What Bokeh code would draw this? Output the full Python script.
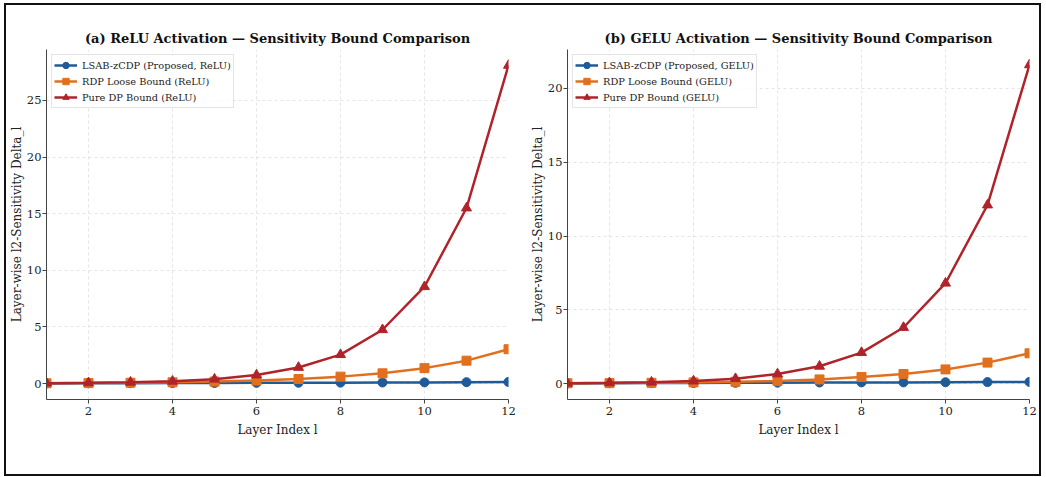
from bokeh.plotting import figure
from bokeh.layouts import row
from bokeh.models import Range1d, SingleIntervalTicker, FixedTicker
from bokeh.embed import file_html
from bokeh.resources import INLINE

layers = [1, 2, 3, 4, 5, 6, 7, 8, 9, 10, 11, 12]

relu_lsab = [0.01, 0.02, 0.03, 0.04, 0.05, 0.06, 0.07, 0.08, 0.09, 0.10, 0.12, 0.14]
relu_rdp = [0.02, 0.04, 0.07, 0.11, 0.17, 0.26, 0.40, 0.61, 0.90, 1.36, 2.02, 3.03]
relu_pure = [0.03, 0.06, 0.11, 0.20, 0.38, 0.75, 1.42, 2.55, 4.75, 8.55, 15.5, 28.1]

gelu_lsab = [0.01, 0.02, 0.03, 0.04, 0.05, 0.06, 0.07, 0.08, 0.08, 0.09, 0.10, 0.11]
gelu_rdp = [0.02, 0.03, 0.05, 0.08, 0.12, 0.18, 0.28, 0.45, 0.65, 0.96, 1.42, 2.05]
gelu_pure = [0.02, 0.05, 0.09, 0.17, 0.33, 0.65, 1.17, 2.10, 3.80, 6.80, 12.1, 21.6]

x_ticks = [2, 4, 6, 8, 10, 12]

BLUE = "#1f5a99"
ORANGE = "#e0701e"
RED = "#b0232a"
SERIF = "DejaVu Serif"


def make_panel(title, act, lsab, rdp, pure, y_range, width, bl, br):
    p = figure(width=width, height=469, output_backend="svg", toolbar_location=None,
               x_range=Range1d(1, 12), y_range=Range1d(*y_range),
               min_border_left=bl, min_border_right=br, min_border_top=44, min_border_bottom=75,
               title=title)
    p.title.text_font = SERIF
    p.title.text_font_size = "13px"
    p.title.text_font_style = "bold"
    p.title.align = "center"
    p.title.standoff = 8
    p.title.text_color = "#111111"
    p.outline_line_color = None
    p.background_fill_color = "white"
    p.border_fill_color = "white"

    series = [
        (lsab, BLUE, "circle", f"LSAB-zCDP (Proposed, {act})", 9),
        (rdp, ORANGE, "square", f"RDP Loose Bound ({act})", 9),
        (pure, RED, "triangle", f"Pure DP Bound ({act})", 10),
    ]
    for ys, col, mk, lab, sz in series:
        p.line(layers, ys, line_color=col, line_width=2.5, legend_label=lab)
        p.scatter(layers, ys, marker=mk, size=sz, fill_color=col, line_color=col, legend_label=lab)

    p.xaxis.ticker = FixedTicker(ticks=x_ticks)
    p.yaxis.ticker = SingleIntervalTicker(interval=5)
    p.xaxis.axis_label = "Layer Index l"
    p.yaxis.axis_label = "Layer-wise l2-Sensitivity Delta_l"
    for ax in (p.xaxis, p.yaxis):
        ax.axis_label_text_font = SERIF
        ax.axis_label_text_font_size = "12px"
        ax.axis_label_text_font_style = "normal"
        ax.axis_label_text_color = "#222222"
        ax.major_label_text_font = SERIF
        ax.major_label_text_font_size = "11.5px"
        ax.major_label_text_color = "#222222"
        ax.axis_line_color = "#444444"
        ax.major_tick_line_color = "#444444"
        ax.major_tick_in = 0
        ax.major_tick_out = 4
        ax.minor_tick_line_color = None
        ax.major_label_standoff = 1
        ax.axis_label_standoff = 0
    p.xaxis.axis_label_standoff = 5
    p.xaxis.major_label_standoff = 3

    p.grid.grid_line_color = "#dddddd"
    p.grid.grid_line_dash = "3 3"
    p.grid.grid_line_width = 0.8

    lg = p.legend[0]
    lg.location = "top_left"
    lg.margin = 5
    lg.padding = 2
    lg.spacing = 0
    lg.label_height = 16
    lg.glyph_height = 16
    lg.glyph_width = 23
    lg.label_standoff = 5
    lg.label_text_font = SERIF
    lg.label_text_font_size = "9.8px"
    lg.label_text_color = "#222222"
    lg.border_line_color = "#cccccc"
    lg.border_line_width = 1
    lg.background_fill_color = "white"
    lg.background_fill_alpha = 0.85
    return p


p1 = make_panel("(a) ReLU Activation \u2014 Sensitivity Bound Comparison", "ReLU",
                relu_lsab, relu_rdp, relu_pure, (-1.41, 29.5), 518, 40, 16)
p2 = make_panel("(b) GELU Activation \u2014 Sensitivity Bound Comparison", "GELU",
                gelu_lsab, gelu_rdp, gelu_pure, (-1.08, 22.64), 515, 43, 10)

layout = row(p1, p2, styles={"border": "2px solid #111111", "background-color": "white",
                             "margin-left": "4px", "margin-top": "3px"})

open("out.html", "w").write(file_html(layout, INLINE))
